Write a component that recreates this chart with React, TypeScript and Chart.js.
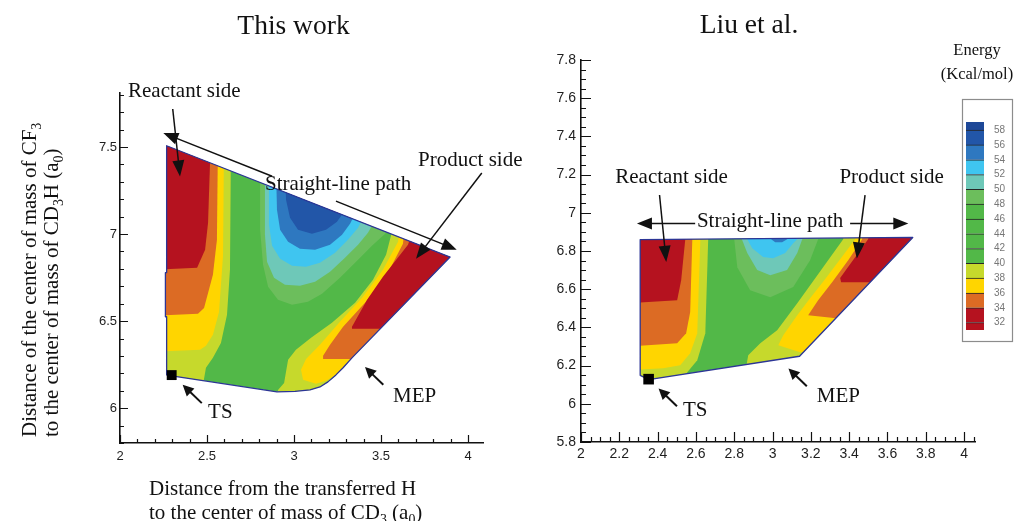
import React, { useEffect, useRef } from 'react';
import { Chart, registerables } from 'chart.js';

Chart.register(...registerables);

type Pt = [number, number];

const SERIF = '"Liberation Serif", "Times New Roman", Times, serif';
const SANS = '"Liberation Sans", Arial, Helvetica, sans-serif';

// ---------- energy scale (kcal/mol): band i spans EDGES[i]..EDGES[i+1] ----------
const ENERGY_EDGES = [31, 32, 34, 36, 38, 40, 42, 44, 46, 48, 50, 52, 54, 56, 58, 59.1];
const ENERGY_COLORS = [
  '#b5121f', '#b5121f', '#dc6b24', '#ffd500', '#c6d92c',
  '#52b848', '#52b848', '#52b848', '#52b848', '#6cbe5c',
  '#6ec8b8', '#3fc5f0', '#2e78c0', '#2256a8', '#1e4898',
];
const ENERGY_TICKS = [32, 34, 36, 38, 40, 42, 44, 46, 48, 50, 52, 54, 56, 58];

// colour index of the bulk region
const BASE_BAND = 5;

// ---------- "This work" surface ----------
const THIS_X_TICKS = [2, 2.5, 3, 3.5, 4];
const THIS_Y_TICKS = [6, 6.5, 7, 7.5];

const THIS_DOMAIN: Pt[] = [
  [2.268, 7.507], [3.897, 6.868], [3.333, 6.289], [3.282, 6.232], [3.241, 6.191],
  [3.195, 6.151], [3.149, 6.122], [3.092, 6.105], [3.006, 6.097], [2.902, 6.094],
  [2.297, 6.186], [2.268, 6.191], [2.268, 6.525], [2.261, 6.525], [2.261, 6.778],
  [2.268, 6.778],
];
// reactant valley: E < 40, 38, 36, 34
const THIS_REACT_40: Pt[] = [[2.638, 7.542], [2.632, 6.795], [2.615, 6.536], [2.58, 6.375], [2.534, 6.289], [2.494, 6.232], [2.477, 6.134], [2.46, 6.048], [2.172, 6.048], [2.172, 7.542]];
const THIS_REACT_38: Pt[] = [[2.598, 7.542], [2.592, 6.875], [2.569, 6.553], [2.534, 6.421], [2.494, 6.358], [2.46, 6.335], [2.172, 6.324], [2.172, 7.542]];
const THIS_REACT_36: Pt[] = [[2.563, 7.542], [2.557, 6.967], [2.534, 6.766], [2.483, 6.576], [2.448, 6.542], [2.172, 6.53], [2.172, 7.542]];
const THIS_REACT_34: Pt[] = [[2.517, 7.542], [2.517, 7.398], [2.506, 7.065], [2.489, 6.91], [2.443, 6.806], [2.172, 6.795], [2.172, 7.542]];
// product valley: E < 40, 38, 36, 34
const THIS_PROD_40: Pt[] = [[3.575, 7.053], [3.557, 6.99], [3.529, 6.881], [3.454, 6.737], [3.351, 6.605], [3.218, 6.49], [3.098, 6.404], [3.011, 6.335], [2.966, 6.278], [2.954, 6.209], [2.943, 6.145], [2.908, 6.105], [2.897, 6.048], [4.126, 6.048], [4.126, 7.053]];
const THIS_PROD_38: Pt[] = [[3.609, 7.053], [3.598, 6.956], [3.511, 6.795], [3.391, 6.634], [3.264, 6.496], [3.149, 6.364], [3.069, 6.283], [3.04, 6.22], [3.052, 6.163], [3.126, 6.14], [3.184, 6.157], [3.276, 6.214], [4.126, 6.214], [4.126, 7.053]];
const THIS_PROD_36: Pt[] = [[3.638, 7.053], [3.626, 6.944], [3.534, 6.766], [3.408, 6.605], [3.282, 6.467], [3.207, 6.364], [3.167, 6.301], [3.167, 6.283], [4.126, 6.283], [4.126, 7.053]];
const THIS_PROD_34: Pt[] = [[3.695, 7.053], [3.655, 6.939], [3.511, 6.755], [3.42, 6.622], [3.333, 6.467], [3.333, 6.456], [4.126, 6.456], [4.126, 7.053]];
// high-energy ridge: E > 48, 50, 52, 54, 56
const THIS_RIDGE_48: Pt[] = [[2.805, 7.37], [2.805, 7.025], [2.822, 6.824], [2.851, 6.697], [2.908, 6.622], [2.989, 6.594], [3.08, 6.611], [3.161, 6.657], [3.264, 6.749], [3.368, 6.852], [3.448, 6.933], [3.511, 6.99], [3.563, 7.036], [3.563, 7.37]];
const THIS_RIDGE_50: Pt[] = [[2.833, 7.37], [2.833, 6.996], [2.845, 6.841], [2.885, 6.749], [2.948, 6.709], [3.034, 6.703], [3.121, 6.726], [3.207, 6.783], [3.293, 6.864], [3.368, 6.939], [3.425, 7.007], [3.448, 7.048], [3.448, 7.37]];
const THIS_RIDGE_52: Pt[] = [[2.856, 7.37], [2.856, 7.053], [2.874, 6.933], [2.92, 6.858], [2.989, 6.818], [3.069, 6.812], [3.149, 6.835], [3.236, 6.893], [3.31, 6.967], [3.368, 7.036], [3.391, 7.082], [3.391, 7.37]];
const THIS_RIDGE_54: Pt[] = [[2.897, 7.37], [2.902, 7.14], [2.92, 7.025], [2.966, 6.956], [3.034, 6.916], [3.121, 6.91], [3.207, 6.939], [3.276, 6.996], [3.322, 7.059], [3.345, 7.105], [3.345, 7.37]];
const THIS_RIDGE_56: Pt[] = [[2.948, 7.37], [2.954, 7.197], [2.977, 7.094], [3.023, 7.025], [3.103, 7.002], [3.184, 7.025], [3.247, 7.071], [3.287, 7.128], [3.299, 7.163], [3.299, 7.37]];

const THIS_TS: Pt = [2.297, 6.19];

// ---------- Liu et al. surface ----------
const LIU_X_TICKS = [2, 2.2, 2.4, 2.6, 2.8, 3, 3.2, 3.4, 3.6, 3.8, 4];
const LIU_Y_TICKS = [5.8, 6, 6.2, 6.4, 6.6, 6.8, 7, 7.2, 7.4, 7.6, 7.8];

const LIU_DOMAIN: Pt[] = [[2.309, 6.86], [3.732, 6.871], [3.141, 6.249], [2.353, 6.127], [2.309, 6.149]];
const LIU_REACT_40: Pt[] = [[2.664, 6.909], [2.664, 6.857], [2.649, 6.369], [2.607, 6.228], [2.555, 6.165], [2.492, 6.123], [2.257, 6.071], [2.257, 6.909]];
const LIU_REACT_38: Pt[] = [[2.623, 6.909], [2.623, 6.857], [2.607, 6.369], [2.57, 6.265], [2.518, 6.202], [2.429, 6.186], [2.257, 6.176], [2.257, 6.909]];
const LIU_REACT_36: Pt[] = [[2.581, 6.909], [2.581, 6.857], [2.57, 6.48], [2.549, 6.369], [2.502, 6.317], [2.257, 6.301], [2.257, 6.909]];
const LIU_REACT_34: Pt[] = [[2.544, 6.909], [2.544, 6.857], [2.523, 6.647], [2.502, 6.542], [2.257, 6.527], [2.257, 6.909]];
const LIU_PROD_40: Pt[] = [[3.369, 6.909], [3.369, 6.862], [3.264, 6.715], [3.129, 6.527], [3.024, 6.385], [2.936, 6.317], [2.873, 6.254], [2.863, 6.197], [2.863, 6.071], [3.979, 6.071], [3.979, 6.909]];
const LIU_PROD_38: Pt[] = [[3.431, 6.909], [3.431, 6.862], [3.353, 6.757], [3.27, 6.647], [3.196, 6.553], [3.129, 6.464], [3.056, 6.359], [3.03, 6.307], [3.144, 6.27], [3.979, 6.27], [3.979, 6.909]];
const LIU_PROD_36: Pt[] = [[3.468, 6.909], [3.468, 6.862], [3.395, 6.752], [3.311, 6.637], [3.238, 6.542], [3.186, 6.464], [3.332, 6.448], [3.979, 6.448], [3.979, 6.909]];
const LIU_PROD_34: Pt[] = [[3.51, 6.909], [3.499, 6.862], [3.353, 6.658], [3.358, 6.637], [3.979, 6.637], [3.979, 6.909]];
const LIU_RIDGE_48: Pt[] = [[2.8, 6.909], [2.8, 6.862], [2.816, 6.715], [2.883, 6.595], [2.988, 6.558], [3.108, 6.611], [3.196, 6.752], [3.238, 6.862], [3.238, 6.909]];
const LIU_RIDGE_50: Pt[] = [[2.84, 6.909], [2.84, 6.862], [2.868, 6.789], [2.92, 6.7], [2.988, 6.673], [3.076, 6.7], [3.129, 6.789], [3.155, 6.862], [3.155, 6.909]];
const LIU_RIDGE_52: Pt[] = [[2.868, 6.909], [2.868, 6.862], [2.894, 6.815], [2.951, 6.768], [3.003, 6.762], [3.066, 6.789], [3.108, 6.841], [3.129, 6.862], [3.129, 6.909]];
const LIU_RIDGE_54: Pt[] = [[2.993, 6.909], [2.993, 6.862], [3.014, 6.846], [3.05, 6.846], [3.076, 6.862], [3.076, 6.909]];

const LIU_TS: Pt = [2.353, 6.129];

// ---------- annotations (data coordinates) ----------
type Arrow = { from: Pt; to: Pt };
type Note = { text: string; at: Pt };

const THIS_SIDE_ARROWS: Arrow[] = [
  { from: [2.303, 7.718], to: [2.345, 7.331] },
  { from: [4.079, 7.351], to: [3.701, 6.858] },
];
const THIS_PATH_ARROWS: Arrow[] = [
  { from: [2.874, 7.332], to: [2.249, 7.58] },
  { from: [3.241, 7.189], to: [3.935, 6.91] },
];
const THIS_MARK_ARROWS: Arrow[] = [
  { from: [2.47, 6.029], to: [2.36, 6.134] },
  { from: [3.513, 6.134], to: [3.408, 6.236] },
];
const THIS_NOTES: Note[] = [
  { text: 'Reactant side', at: [2.046, 7.787] },
  { text: 'Product side', at: [3.713, 7.393] },
  { text: 'Straight-line path', at: [2.833, 7.255] },
  { text: 'TS', at: [2.506, 5.944] },
  { text: 'MEP', at: [3.569, 6.038] },
];

const LIU_SIDE_ARROWS: Arrow[] = [
  { from: [2.41, 7.093], to: [2.445, 6.743] },
  { from: [3.483, 7.093], to: [3.44, 6.761] },
];
const LIU_PATH_ARROWS: Arrow[] = [
  { from: [2.596, 6.944], to: [2.292, 6.944] },
  { from: [3.405, 6.944], to: [3.709, 6.944] },
];
const LIU_MARK_ARROWS: Arrow[] = [
  { from: [2.501, 5.987], to: [2.405, 6.08] },
  { from: [3.179, 6.092], to: [3.083, 6.185] },
];
const LIU_NOTES: Note[] = [
  { text: 'Reactant side', at: [2.179, 7.154] },
  { text: 'Product side', at: [3.349, 7.154] },
  { text: 'Straight-line path', at: [2.605, 6.927] },
  { text: 'TS', at: [2.532, 5.935] },
  { text: 'MEP', at: [3.231, 6.01] },
];

// ---------- drawing helpers ----------
type Run = { t: string; sub?: boolean };
type Band = { pts: Pt[]; level: number };

interface Panel {
  id: string;
  xRange: [number, number];
  yRange: [number, number];
  xTicks: number[];
  yTicks: number[];
  minorStep: number;
  majorLen: number;
  minorLen: number;
  tickFont: number;
  xPad: number;
  yPad: number;
  yAxisWidth: number;
  padding: { left: number; right: number; top: number; bottom: number };
  domain: Pt[];
  bands: Band[];
  ts: Pt;
  tsRadius: number;
  sideArrows: Arrow[];
  pathArrows: Arrow[];
  markArrows: Arrow[];
  notes: Note[];
  decorate: (ctx: CanvasRenderingContext2D) => void;
}

function toPx(chart: any, p: Pt): Pt {
  return [chart.scales.x.getPixelForValue(p[0]), chart.scales.y.getPixelForValue(p[1])];
}

function tracePoly(ctx: CanvasRenderingContext2D, chart: any, pts: Pt[]) {
  ctx.beginPath();
  pts.forEach((p, i) => {
    const [x, y] = toPx(chart, p);
    if (i === 0) ctx.moveTo(x, y);
    else ctx.lineTo(x, y);
  });
  ctx.closePath();
}

function drawArrow(ctx: CanvasRenderingContext2D, a: Pt, b: Pt, head: number, half: number, lw: number) {
  const dx = b[0] - a[0];
  const dy = b[1] - a[1];
  const len = Math.hypot(dx, dy) || 1;
  const ux = dx / len;
  const uy = dy / len;
  const bx = b[0] - ux * head;
  const by = b[1] - uy * head;
  ctx.lineWidth = lw;
  ctx.beginPath();
  ctx.moveTo(a[0], a[1]);
  ctx.lineTo(bx + ux * 2, by + uy * 2);
  ctx.stroke();
  ctx.beginPath();
  ctx.moveTo(b[0], b[1]);
  ctx.lineTo(bx - uy * half, by + ux * half);
  ctx.lineTo(bx + uy * half, by - ux * half);
  ctx.closePath();
  ctx.fill();
}

function drawRuns(ctx: CanvasRenderingContext2D, runs: Run[], x: number, y: number, size: number) {
  let cx = x;
  for (const r of runs) {
    const s = r.sub ? size * 0.66 : size;
    ctx.font = `${s}px ${SERIF}`;
    ctx.fillText(r.t, cx, r.sub ? y + size * 0.22 : y);
    cx += ctx.measureText(r.t).width;
  }
}

function centeredText(ctx: CanvasRenderingContext2D, text: string, x: number, y: number, size: number) {
  ctx.font = `${size}px ${SERIF}`;
  ctx.textAlign = 'center';
  ctx.fillText(text, x, y);
  ctx.textAlign = 'left';
}

function panelPlugin(p: Panel) {
  return {
    id: 'surface-' + p.id,
    beforeDatasetsDraw(chart: any) {
      const ctx: CanvasRenderingContext2D = chart.ctx;
      ctx.save();
      tracePoly(ctx, chart, p.domain);
      ctx.fillStyle = ENERGY_COLORS[BASE_BAND];
      ctx.fill();
      ctx.clip();
      for (const b of p.bands) {
        tracePoly(ctx, chart, b.pts);
        ctx.fillStyle = ENERGY_COLORS[b.level];
        ctx.fill();
      }
      ctx.restore();
      ctx.save();
      tracePoly(ctx, chart, p.domain);
      ctx.strokeStyle = '#2c3596';
      ctx.lineWidth = 1.3;
      ctx.lineJoin = 'round';
      ctx.stroke();
      ctx.restore();
    },
    afterDatasetsDraw(chart: any) {
      const ctx: CanvasRenderingContext2D = chart.ctx;
      ctx.save();
      ctx.strokeStyle = '#111';
      ctx.fillStyle = '#111';
      for (const a of p.sideArrows) drawArrow(ctx, toPx(chart, a.from), toPx(chart, a.to), 16, 6, 1.5);
      for (const a of p.pathArrows) drawArrow(ctx, toPx(chart, a.from), toPx(chart, a.to), 15, 6, 1.5);
      for (const a of p.markArrows) drawArrow(ctx, toPx(chart, a.from), toPx(chart, a.to), 11, 5.5, 2);
      ctx.font = `21px ${SERIF}`;
      ctx.textBaseline = 'alphabetic';
      ctx.textAlign = 'left';
      for (const n of p.notes) {
        const [x, y] = toPx(chart, n.at);
        ctx.fillText(n.text, x, y);
      }
      ctx.restore();
    },
    afterDraw(chart: any) {
      const ctx: CanvasRenderingContext2D = chart.ctx;
      const { left, bottom } = chart.chartArea;
      const xs = chart.scales.x;
      const ys = chart.scales.y;
      ctx.save();
      ctx.strokeStyle = '#111';
      ctx.lineWidth = 1.2;
      ctx.beginPath();
      const isMajor = (v: number, majors: number[]) => majors.some((m) => Math.abs(m - v) < 1e-6);
      const step = p.minorStep;
      for (let k = Math.ceil(p.xRange[0] / step - 1e-6); k * step <= p.xRange[1] + 1e-6; k++) {
        const v = k * step;
        const len = isMajor(v, p.xTicks) ? p.majorLen : p.minorLen;
        const x = Math.round(xs.getPixelForValue(v)) + 0.5;
        ctx.moveTo(x, bottom);
        ctx.lineTo(x, bottom - len);
      }
      for (let k = Math.ceil(p.yRange[0] / step - 1e-6); k * step <= p.yRange[1] + 1e-6; k++) {
        const v = k * step;
        const len = isMajor(v, p.yTicks) ? p.majorLen : p.minorLen;
        const y = Math.round(ys.getPixelForValue(v)) + 0.5;
        ctx.moveTo(left, y);
        ctx.lineTo(left + len, y);
      }
      ctx.stroke();
      ctx.fillStyle = '#111';
      ctx.textBaseline = 'alphabetic';
      p.decorate(ctx);
      ctx.restore();
    },
  };
}

function panelConfig(p: Panel): any {
  const tickOpts = (pad: number) => ({
    font: { family: SANS, size: p.tickFont },
    color: '#1e1e1e',
    padding: pad,
    maxRotation: 0,
    autoSkip: false,
    callback: (v: number) => String(v),
  });
  return {
    type: 'scatter',
    data: {
      datasets: [
        {
          data: [{ x: p.ts[0], y: p.ts[1] }],
          pointStyle: 'rect',
          pointRadius: p.tsRadius,
          backgroundColor: '#000',
          borderColor: '#000',
          borderWidth: 0,
        },
      ],
    },
    options: {
      animation: false,
      responsive: false,
      devicePixelRatio: 1,
      events: [],
      layout: { padding: p.padding },
      plugins: { legend: { display: false }, tooltip: { enabled: false }, title: { display: false } },
      scales: {
        x: {
          type: 'linear',
          min: p.xRange[0],
          max: p.xRange[1],
          grid: { display: false, drawTicks: false },
          border: { display: true, color: '#111', width: 1.6 },
          ticks: tickOpts(p.xPad),
          afterBuildTicks: (s: any) => {
            s.ticks = p.xTicks.map((v) => ({ value: v }));
          },
          afterFit: (s: any) => {
            s.height = 25;
          },
        },
        y: {
          type: 'linear',
          min: p.yRange[0],
          max: p.yRange[1],
          grid: { display: false, drawTicks: false },
          border: { display: true, color: '#111', width: 1.6 },
          ticks: tickOpts(p.yPad),
          afterBuildTicks: (s: any) => {
            s.ticks = p.yTicks.map((v) => ({ value: v }));
          },
          afterFit: (s: any) => {
            s.width = p.yAxisWidth;
          },
        },
      },
    },
    plugins: [panelPlugin(p)],
  };
}

const THIS_PANEL: Panel = {
  id: 'this',
  xRange: [2, 4.086],
  yRange: [5.8, 7.81],
  xTicks: THIS_X_TICKS,
  yTicks: THIS_Y_TICKS,
  minorStep: 0.1,
  majorLen: 8,
  minorLen: 4,
  tickFont: 13,
  xPad: 6,
  yPad: 3,
  yAxisWidth: 120,
  padding: { left: 0, right: 57, top: 93, bottom: 53 },
  domain: THIS_DOMAIN,
  bands: [
    { pts: THIS_REACT_40, level: 4 },
    { pts: THIS_REACT_38, level: 3 },
    { pts: THIS_REACT_36, level: 2 },
    { pts: THIS_REACT_34, level: 1 },
    { pts: THIS_PROD_40, level: 4 },
    { pts: THIS_PROD_38, level: 3 },
    { pts: THIS_PROD_36, level: 2 },
    { pts: THIS_PROD_34, level: 1 },
    { pts: THIS_RIDGE_48, level: 9 },
    { pts: THIS_RIDGE_50, level: 10 },
    { pts: THIS_RIDGE_52, level: 11 },
    { pts: THIS_RIDGE_54, level: 12 },
    { pts: THIS_RIDGE_56, level: 13 },
  ],
  ts: THIS_TS,
  tsRadius: 7,
  sideArrows: THIS_SIDE_ARROWS,
  pathArrows: THIS_PATH_ARROWS,
  markArrows: THIS_MARK_ARROWS,
  notes: THIS_NOTES,
  decorate: (ctx) => {
    centeredText(ctx, 'This work', 293.5, 34, 27.5);
    drawRuns(ctx, [{ t: 'Distance from the transferred H' }], 149, 495, 21);
    drawRuns(ctx, [{ t: 'to the center of mass of CD' }, { t: '3', sub: true }, { t: ' (a' }, { t: '0', sub: true }, { t: ')' }], 149, 519, 21);
    ctx.save();
    ctx.translate(36, 437);
    ctx.rotate(-Math.PI / 2);
    drawRuns(ctx, [{ t: 'Distance of the center of mass of CF' }, { t: '3', sub: true }], 0, 0, 21);
    ctx.restore();
    ctx.save();
    ctx.translate(58, 437);
    ctx.rotate(-Math.PI / 2);
    drawRuns(ctx, [{ t: 'to the center of mass of CD' }, { t: '3', sub: true }, { t: 'H (a' }, { t: '0', sub: true }, { t: ')' }], 0, 0, 21);
    ctx.restore();
  },
};

const LIU_PANEL: Panel = {
  id: 'liu',
  xRange: [2, 4.057],
  yRange: [5.8, 7.8],
  xTicks: LIU_X_TICKS,
  yTicks: LIU_Y_TICKS,
  minorStep: 0.05,
  majorLen: 10,
  minorLen: 5,
  tickFont: 14,
  xPad: 4,
  yPad: 5,
  yAxisWidth: 61,
  padding: { left: 0, right: 44, top: 60, bottom: 54 },
  domain: LIU_DOMAIN,
  bands: [
    { pts: LIU_REACT_40, level: 4 },
    { pts: LIU_REACT_38, level: 3 },
    { pts: LIU_REACT_36, level: 2 },
    { pts: LIU_REACT_34, level: 1 },
    { pts: LIU_PROD_40, level: 4 },
    { pts: LIU_PROD_38, level: 3 },
    { pts: LIU_PROD_36, level: 2 },
    { pts: LIU_PROD_34, level: 1 },
    { pts: LIU_RIDGE_48, level: 9 },
    { pts: LIU_RIDGE_50, level: 10 },
    { pts: LIU_RIDGE_52, level: 11 },
    { pts: LIU_RIDGE_54, level: 12 },
  ],
  ts: LIU_TS,
  tsRadius: 7.5,
  sideArrows: LIU_SIDE_ARROWS,
  pathArrows: LIU_PATH_ARROWS,
  markArrows: LIU_MARK_ARROWS,
  notes: LIU_NOTES,
  decorate: (ctx) => {
    centeredText(ctx, 'Liu et al.', 229, 33, 27.5);
  },
};

// ---------- energy colour bar ----------
const colorbarFrame = {
  id: 'colorbar-frame',
  beforeDraw(chart: any) {
    const ctx: CanvasRenderingContext2D = chart.ctx;
    ctx.save();
    ctx.fillStyle = '#fff';
    ctx.fillRect(26, 69.5, 51, 242);
    ctx.strokeStyle = '#8c8c8c';
    ctx.lineWidth = 1.2;
    ctx.strokeRect(26.5, 69.5, 50, 242);
    ctx.restore();
  },
  afterDraw(chart: any) {
    const ctx: CanvasRenderingContext2D = chart.ctx;
    ctx.save();
    ctx.fillStyle = '#111';
    ctx.textBaseline = 'alphabetic';
    centeredText(ctx, 'Energy', 41, 25, 16.5);
    centeredText(ctx, '(Kcal/mol)', 41, 49, 16.5);
    ctx.restore();
  },
};

function colorbarConfig(): any {
  const last = ENERGY_COLORS.length - 1;
  return {
    type: 'bar',
    data: {
      labels: ['E'],
      datasets: ENERGY_COLORS.map((c, i) => ({
        data: [[ENERGY_EDGES[i], ENERGY_EDGES[i + 1]]],
        backgroundColor: c,
        borderColor: '#262626',
        borderWidth: i === last ? 0 : { top: 1, right: 0, bottom: 0, left: 0 },
        borderSkipped: false,
        grouped: false,
        barPercentage: 1,
        categoryPercentage: 1,
      })),
    },
    options: {
      animation: false,
      responsive: false,
      devicePixelRatio: 1,
      events: [],
      layout: { padding: { left: 30, right: 0, top: 92, bottom: 18 } },
      plugins: { legend: { display: false }, tooltip: { enabled: false } },
      scales: {
        x: { display: false },
        y: {
          position: 'right',
          min: ENERGY_EDGES[0],
          max: ENERGY_EDGES[ENERGY_EDGES.length - 1],
          grid: { display: false, drawTicks: false },
          border: { display: false },
          ticks: {
            font: { family: SANS, size: 10 },
            color: '#777',
            padding: 10,
            autoSkip: false,
            callback: (v: number) => String(v),
          },
          afterBuildTicks: (s: any) => {
            s.ticks = ENERGY_TICKS.map((v) => ({ value: v }));
          },
          afterFit: (s: any) => {
            s.width = 35;
          },
        },
      },
    },
    plugins: [colorbarFrame],
  };
}

export default function App() {
  const leftRef = useRef<HTMLCanvasElement>(null);
  const rightRef = useRef<HTMLCanvasElement>(null);
  const barRef = useRef<HTMLCanvasElement>(null);

  useEffect(() => {
    const charts: Chart[] = [];
    if (leftRef.current) charts.push(new Chart(leftRef.current, panelConfig(THIS_PANEL)));
    if (rightRef.current) charts.push(new Chart(rightRef.current, panelConfig(LIU_PANEL)));
    if (barRef.current) charts.push(new Chart(barRef.current, colorbarConfig()));
    return () => charts.forEach((c) => c.destroy());
  }, []);

  return (
    <div
      style={{
        position: 'fixed',
        left: 0,
        top: 0,
        width: 1019,
        height: 521,
        background: '#fff',
        overflow: 'hidden',
      }}
    >
      <canvas
        ref={leftRef}
        width={540}
        height={521}
        style={{ position: 'absolute', left: 0, top: 0, width: 540, height: 521 }}
      />
      <canvas
        ref={rightRef}
        width={499}
        height={521}
        style={{ position: 'absolute', left: 520, top: 0, width: 499, height: 521 }}
      />
      <canvas
        ref={barRef}
        width={83}
        height={318}
        style={{ position: 'absolute', left: 936, top: 30, width: 83, height: 318 }}
      />
    </div>
  );
}
